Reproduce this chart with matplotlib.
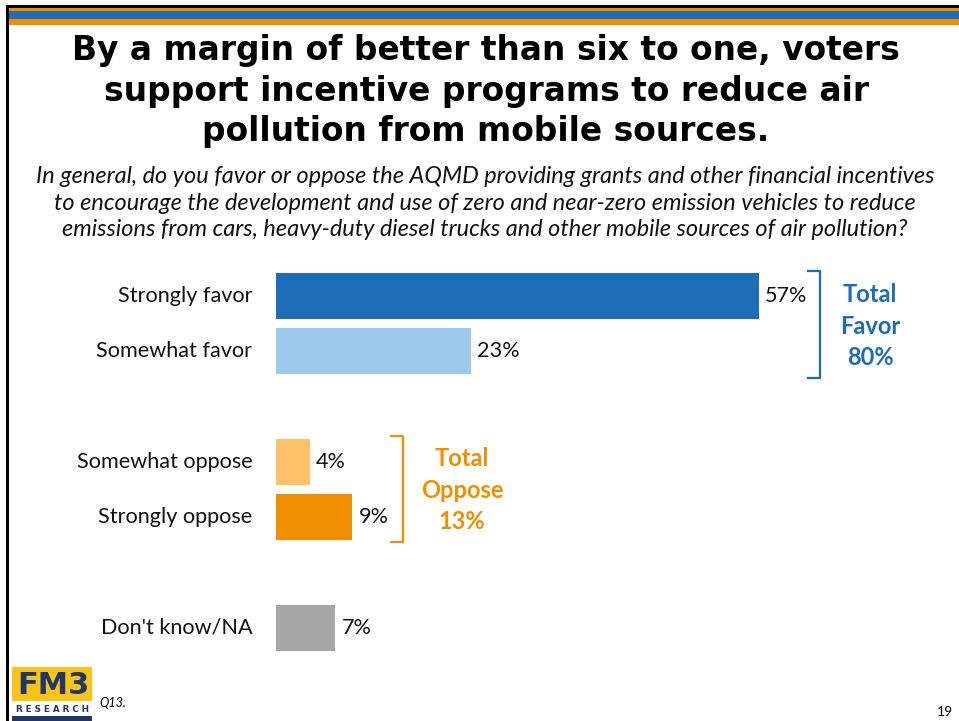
import matplotlib.pyplot as plt
from matplotlib.patches import Rectangle

W, H = 959, 721

categories = ['Strongly favor', 'Somewhat favor', 'Somewhat oppose',
              'Strongly oppose', "Don't know/NA"]
values = [57, 23, 4, 9, 7]
slots = [0, 1, 3, 4, 6]
colors = ['#1B6DB7', '#9DC9EE', '#FDC26A', '#F08F00', '#A6A6A6']

total_favor = 80
total_oppose = 13

title = ('By a margin of better than six to one, voters\n'
         'support incentive programs to reduce air\n'
         'pollution from mobile sources.')
subtitle = ('In general, do you favor or oppose the AQMD providing grants and other financial incentives\n'
            'to encourage the development and use of zero and near-zero emission vehicles to reduce\n'
            'emissions from cars, heavy-duty diesel trucks and other mobile sources of air pollution?')

BLUE = '#1B6DB7'
ORANGE = '#F08F00'
NAVY = '#1F3864'
LABEL_FONT = 'Lato'


def fx(px):
    return px / W


def fy(py):
    return 1 - py / H


fig = plt.figure(figsize=(W / 100, H / 100), dpi=100)

# frame lines and top stripes
fig.add_artist(Rectangle((fx(6), 0), fx(2.5), fy(5), transform=fig.transFigure,
                         color='black', lw=0))
fig.add_artist(Rectangle((fx(6), fy(7.5)), 1, fy(5) - fy(7.5),
                         transform=fig.transFigure, color='black', lw=0))
for top, bot, c in [(8, 11, ORANGE), (11, 19, BLUE), (19, 25, ORANGE)]:
    fig.add_artist(Rectangle((fx(8.5), fy(bot)), 1, fy(top) - fy(bot),
                             transform=fig.transFigure, color=c, lw=0))

fig.text(fx(486), fy(91), title, ha='center', va='center', fontsize=23.7,
         fontweight='bold', family='DejaVu Sans', linespacing=1.27)
fig.text(fx(485), fy(203), subtitle, ha='center', va='center', fontsize=16.9,
         style='italic', family=LABEL_FONT, linespacing=1.3, color='#111111')

# bars
px_per = (759 - 276) / 57.0
slot_px = 55.3
top_px = 296 - slot_px / 2
ax_w = (950 - 276)
ax_h = 7 * slot_px
ax = fig.add_axes([fx(276), fy(top_px + ax_h), fx(ax_w), ax_h / H])
ax.barh(slots, values, height=0.83, color=colors)
ax.set_xlim(0, ax_w / px_per)
ax.set_ylim(6.5, -0.5)
ax.axis('off')

for s, v, lab in zip(slots, values, categories):
    ax.annotate('{}%'.format(v), xy=(v, s), xytext=(4.5, 0),
                textcoords='offset points', ha='left', va='center',
                fontsize=15.6, family=LABEL_FONT, color='#111111')
    ax.annotate(lab, xy=(0, s), xytext=(-17, 0), textcoords='offset points',
                ha='right', va='center', fontsize=15.6, family=LABEL_FONT,
                color='#111111')


def bracket(x0_px, x1_px, y0_px, y1_px, color):
    xs = [(x0_px - 276) / px_per, (x1_px - 276) / px_per,
          (x1_px - 276) / px_per, (x0_px - 276) / px_per]
    ys = [(y0_px - top_px) / slot_px - 0.5, (y0_px - top_px) / slot_px - 0.5,
          (y1_px - top_px) / slot_px - 0.5, (y1_px - top_px) / slot_px - 0.5]
    ax.plot(xs, ys, color=color, lw=1.6, clip_on=False,
            solid_joinstyle='round')


bracket(808, 820, 271, 378, BLUE)
bracket(391, 403, 436, 542, ORANGE)

fig.text(fx(870), fy(326), 'Total\nFavor\n{}%'.format(total_favor),
         ha='center', va='center', fontsize=17, fontweight='bold',
         family=LABEL_FONT, color=BLUE, linespacing=1.45)
fig.text(fx(462), fy(490), 'Total\nOppose\n{}%'.format(total_oppose),
         ha='center', va='center', fontsize=17, fontweight='bold',
         family=LABEL_FONT, color=ORANGE, linespacing=1.45)

# logo
fig.add_artist(Rectangle((fx(12), fy(701)), fx(80), fy(667) - fy(701),
                         transform=fig.transFigure, color='#FCC419', lw=0))
fig.text(fx(53), fy(686), 'FM3', ha='center', va='center', fontsize=22,
         fontweight='bold', family='DejaVu Sans', color=NAVY)
fig.text(fx(52), fy(709), 'R E S E A R C H', ha='center', va='center',
         fontsize=6.3, fontweight='bold', family='DejaVu Sans', color=NAVY)
fig.add_artist(Rectangle((fx(12), 0), fx(80), fy(716),
                         transform=fig.transFigure, color=NAVY, lw=0))
fig.text(fx(99), fy(703), 'Q13.', ha='left', va='center', fontsize=9,
         style='italic', family=LABEL_FONT)
fig.text(fx(953), fy(712), '19', ha='right', va='center', fontsize=10,
         family=LABEL_FONT)

fig.savefig('out.png', dpi=100)
